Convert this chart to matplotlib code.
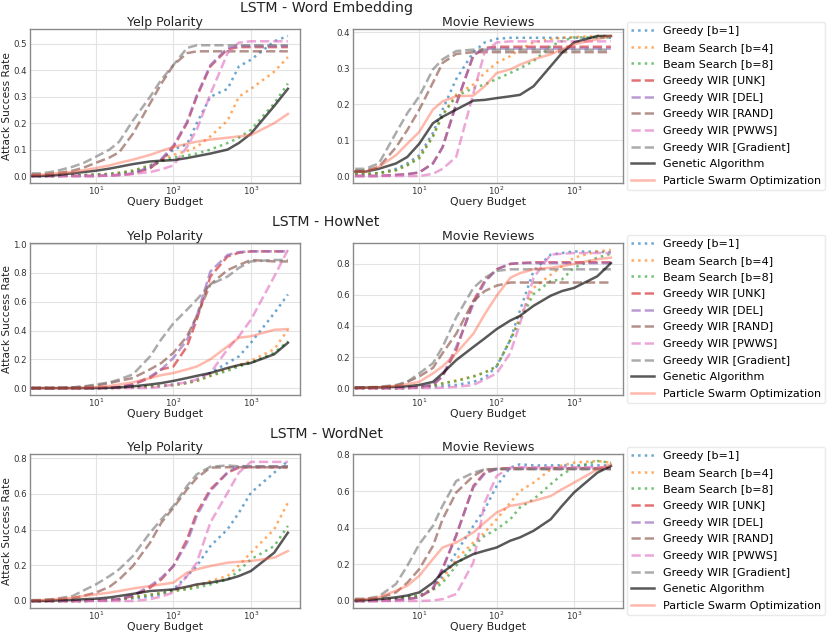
import numpy as np
import matplotlib.pyplot as plt

# query budgets (x values shared by every curve)
budget = [1, 2, 3, 5, 7, 10, 15, 20, 30, 50, 70, 100, 150, 200, 300, 500, 700, 1000, 2000, 3000]

labels = ["Greedy [b=1]", "Beam Search [b=4]", "Beam Search [b=8]",
          "Greedy WIR [UNK]", "Greedy WIR [DEL]", "Greedy WIR [RAND]",
          "Greedy WIR [PWWS]", "Greedy WIR [Gradient]",
          "Genetic Algorithm", "Particle Swarm Optimization"]

# ---- LSTM - Word Embedding ----
we_yelp_greedy = [0, 0, 0, 0.002, 0.003, 0.005, 0.007, 0.01, 0.015, 0.03, 0.06, 0.1, 0.12, 0.2, 0.3, 0.33, 0.415, 0.44, 0.51, 0.53]
we_yelp_beam4 = [0, 0, 0, 0.002, 0.003, 0.005, 0.008, 0.012, 0.02, 0.04, 0.06, 0.08, 0.095, 0.11, 0.15, 0.21, 0.3, 0.33, 0.395, 0.45]
we_yelp_beam8 = [0, 0, 0, 0.002, 0.003, 0.005, 0.008, 0.012, 0.02, 0.04, 0.055, 0.07, 0.078, 0.085, 0.1, 0.125, 0.145, 0.175, 0.275, 0.35]
we_yelp_unk = [0, 0, 0, 0, 0, 0, 0.002, 0.004, 0.008, 0.03, 0.06, 0.11, 0.2, 0.3, 0.415, 0.48, 0.488, 0.488, 0.488, 0.488]
we_yelp_del = [0, 0, 0, 0, 0, 0, 0.002, 0.004, 0.01, 0.035, 0.065, 0.115, 0.205, 0.305, 0.42, 0.485, 0.492, 0.492, 0.492, 0.492]
we_yelp_rand = [0.005, 0.005, 0.01, 0.02, 0.032, 0.05, 0.07, 0.09, 0.16, 0.275, 0.35, 0.42, 0.465, 0.472, 0.472, 0.472, 0.472, 0.472, 0.472, 0.472]
we_yelp_grad = [0.01, 0.01, 0.018, 0.035, 0.05, 0.073, 0.1, 0.13, 0.21, 0.3, 0.365, 0.42, 0.485, 0.495, 0.495, 0.495, 0.495, 0.495, 0.495, 0.495]
we_yelp_pwws = [0, 0, 0, 0, 0, 0, 0.002, 0.004, 0.008, 0.015, 0.025, 0.04, 0.11, 0.175, 0.31, 0.465, 0.505, 0.51, 0.51, 0.51]
we_yelp_ga = [0, 0, 0.003, 0.01, 0.015, 0.02, 0.028, 0.035, 0.045, 0.055, 0.058, 0.06, 0.068, 0.075, 0.085, 0.1, 0.125, 0.16, 0.265, 0.33]
we_yelp_pso = [0.003, 0.005, 0.01, 0.015, 0.022, 0.03, 0.04, 0.05, 0.062, 0.08, 0.095, 0.11, 0.122, 0.13, 0.138, 0.145, 0.15, 0.155, 0.2, 0.235]

we_mr_greedy = [0.005, 0.005, 0.008, 0.02, 0.035, 0.058, 0.12, 0.185, 0.27, 0.345, 0.372, 0.382, 0.385, 0.385, 0.385, 0.385, 0.385, 0.385, 0.385, 0.385]
we_mr_beam4 = [0.005, 0.005, 0.008, 0.016, 0.03, 0.053, 0.11, 0.17, 0.227, 0.255, 0.287, 0.315, 0.334, 0.353, 0.372, 0.381, 0.385, 0.387, 0.39, 0.39]
we_mr_beam8 = [0.005, 0.005, 0.008, 0.016, 0.03, 0.049, 0.11, 0.17, 0.222, 0.245, 0.255, 0.27, 0.287, 0.3, 0.32, 0.362, 0.376, 0.386, 0.386, 0.386]
we_mr_unk = [0, 0, 0, 0.003, 0.005, 0.01, 0.035, 0.08, 0.2, 0.335, 0.357, 0.36, 0.36, 0.36, 0.36, 0.36, 0.36, 0.36, 0.36, 0.36]
we_mr_del = [0, 0, 0, 0.003, 0.005, 0.01, 0.035, 0.08, 0.2, 0.338, 0.355, 0.355, 0.355, 0.355, 0.355, 0.355, 0.355, 0.355, 0.355, 0.355]
we_mr_rand = [0.015, 0.015, 0.025, 0.08, 0.128, 0.185, 0.26, 0.315, 0.34, 0.345, 0.345, 0.345, 0.345, 0.345, 0.345, 0.345, 0.345, 0.345, 0.345, 0.345]
we_mr_grad = [0.02, 0.02, 0.035, 0.12, 0.175, 0.222, 0.297, 0.325, 0.348, 0.352, 0.352, 0.352, 0.352, 0.352, 0.352, 0.352, 0.352, 0.352, 0.352, 0.352]
we_mr_pwws = [0, 0, 0, 0, 0, 0, 0.006, 0.02, 0.053, 0.23, 0.345, 0.372, 0.375, 0.375, 0.375, 0.375, 0.375, 0.375, 0.375, 0.375]
we_mr_ga = [0.012, 0.012, 0.02, 0.035, 0.053, 0.09, 0.147, 0.165, 0.185, 0.21, 0.212, 0.217, 0.222, 0.226, 0.25, 0.306, 0.343, 0.372, 0.39, 0.39]
we_mr_pso = [0.012, 0.012, 0.025, 0.058, 0.09, 0.123, 0.185, 0.208, 0.222, 0.224, 0.25, 0.287, 0.297, 0.31, 0.325, 0.339, 0.353, 0.367, 0.381, 0.39]

# ---- LSTM - HowNet ----
hn_yelp_greedy = [0, 0, 0, 0, 0, 0, 0, 0.002, 0.005, 0.01, 0.015, 0.025, 0.04, 0.06, 0.105, 0.175, 0.22, 0.315, 0.52, 0.65]
hn_yelp_beam4 = [0, 0, 0, 0, 0, 0, 0, 0.002, 0.005, 0.01, 0.015, 0.02, 0.035, 0.05, 0.085, 0.13, 0.16, 0.19, 0.27, 0.405]
hn_yelp_beam8 = [0, 0, 0, 0, 0, 0, 0, 0.002, 0.005, 0.01, 0.015, 0.02, 0.035, 0.05, 0.085, 0.12, 0.15, 0.175, 0.245, 0.325]
hn_yelp_unk = [0, 0, 0, 0, 0, 0, 0.003, 0.007, 0.025, 0.07, 0.13, 0.15, 0.29, 0.475, 0.775, 0.915, 0.94, 0.95, 0.95, 0.95]
hn_yelp_del = [0, 0, 0, 0, 0, 0, 0.003, 0.007, 0.025, 0.08, 0.13, 0.21, 0.335, 0.5, 0.81, 0.925, 0.945, 0.95, 0.95, 0.95]
hn_yelp_rand = [0, 0, 0, 0.005, 0.01, 0.018, 0.035, 0.05, 0.07, 0.13, 0.175, 0.245, 0.36, 0.5, 0.72, 0.82, 0.855, 0.89, 0.88, 0.88]
hn_yelp_grad = [0, 0, 0, 0.005, 0.012, 0.025, 0.04, 0.06, 0.095, 0.22, 0.34, 0.45, 0.545, 0.615, 0.72, 0.775, 0.835, 0.88, 0.89, 0.89]
hn_yelp_pwws = [0, 0, 0, 0, 0, 0, 0, 0, 0, 0, 0.01, 0.025, 0.04, 0.06, 0.105, 0.27, 0.36, 0.475, 0.775, 0.96]
hn_yelp_ga = [0, 0, 0, 0, 0, 0, 0.002, 0.005, 0.012, 0.025, 0.035, 0.05, 0.07, 0.085, 0.105, 0.14, 0.16, 0.175, 0.235, 0.315]
hn_yelp_pso = [0, 0, 0, 0, 0.003, 0.007, 0.015, 0.025, 0.04, 0.07, 0.09, 0.105, 0.13, 0.15, 0.2, 0.29, 0.35, 0.36, 0.405, 0.41]

hn_mr_greedy = [0, 0, 0, 0, 0, 0.005, 0.01, 0.015, 0.02, 0.04, 0.065, 0.14, 0.31, 0.5, 0.755, 0.86, 0.87, 0.88, 0.878, 0.875]
hn_mr_beam4 = [0, 0, 0, 0, 0, 0.005, 0.015, 0.03, 0.05, 0.075, 0.1, 0.14, 0.31, 0.455, 0.645, 0.73, 0.785, 0.84, 0.88, 0.89]
hn_mr_beam8 = [0, 0, 0, 0, 0, 0.005, 0.015, 0.03, 0.045, 0.075, 0.1, 0.14, 0.31, 0.435, 0.605, 0.69, 0.7, 0.775, 0.84, 0.865]
hn_mr_unk = [0, 0, 0, 0, 0.002, 0.005, 0.02, 0.075, 0.245, 0.56, 0.69, 0.765, 0.8, 0.805, 0.81, 0.81, 0.81, 0.81, 0.81, 0.81]
hn_mr_del = [0, 0, 0, 0, 0.002, 0.005, 0.02, 0.08, 0.265, 0.54, 0.68, 0.765, 0.8, 0.805, 0.805, 0.805, 0.805, 0.805, 0.805, 0.805]
hn_mr_rand = [0.003, 0.003, 0.005, 0.015, 0.04, 0.075, 0.13, 0.225, 0.35, 0.56, 0.625, 0.66, 0.68, 0.68, 0.68, 0.68, 0.68, 0.68, 0.68, 0.68]
hn_mr_grad = [0.005, 0.005, 0.008, 0.02, 0.04, 0.095, 0.16, 0.265, 0.455, 0.645, 0.71, 0.755, 0.765, 0.765, 0.765, 0.765, 0.765, 0.765, 0.765, 0.765]
hn_mr_pwws = [0, 0, 0, 0, 0, 0, 0, 0.003, 0.008, 0.02, 0.055, 0.095, 0.225, 0.415, 0.71, 0.86, 0.865, 0.87, 0.87, 0.87]
hn_mr_ga = [0, 0.003, 0.005, 0.008, 0.012, 0.02, 0.04, 0.095, 0.18, 0.265, 0.32, 0.38, 0.435, 0.465, 0.53, 0.595, 0.625, 0.645, 0.72, 0.805]
hn_mr_pso = [0, 0.003, 0.005, 0.015, 0.025, 0.04, 0.095, 0.14, 0.225, 0.35, 0.475, 0.595, 0.71, 0.74, 0.765, 0.775, 0.785, 0.8, 0.83, 0.84]

# ---- LSTM - WordNet ----
wn_yelp_greedy = [0, 0, 0, 0, 0, 0.002, 0.005, 0.008, 0.015, 0.025, 0.037, 0.065, 0.14, 0.196, 0.308, 0.402, 0.495, 0.607, 0.72, 0.785]
wn_yelp_beam4 = [0, 0, 0, 0, 0, 0.002, 0.005, 0.01, 0.02, 0.035, 0.045, 0.056, 0.07, 0.084, 0.112, 0.14, 0.2, 0.271, 0.402, 0.551]
wn_yelp_beam8 = [0, 0, 0, 0, 0, 0.002, 0.005, 0.01, 0.02, 0.035, 0.045, 0.056, 0.065, 0.075, 0.093, 0.121, 0.17, 0.234, 0.308, 0.421]
wn_yelp_unk = [0, 0, 0, 0, 0, 0.002, 0.005, 0.01, 0.028, 0.075, 0.121, 0.196, 0.346, 0.495, 0.626, 0.72, 0.748, 0.75, 0.75, 0.75]
wn_yelp_del = [0, 0, 0, 0, 0, 0.002, 0.005, 0.01, 0.032, 0.084, 0.131, 0.196, 0.327, 0.477, 0.617, 0.72, 0.757, 0.755, 0.755, 0.755]
wn_yelp_rand = [0.003, 0.005, 0.008, 0.015, 0.03, 0.047, 0.08, 0.121, 0.196, 0.327, 0.44, 0.523, 0.626, 0.69, 0.748, 0.75, 0.75, 0.75, 0.75, 0.75]
wn_yelp_grad = [0.005, 0.005, 0.012, 0.028, 0.06, 0.093, 0.14, 0.178, 0.252, 0.383, 0.458, 0.533, 0.645, 0.71, 0.753, 0.76, 0.755, 0.755, 0.755, 0.755]
wn_yelp_pwws = [0, 0, 0, 0, 0, 0, 0, 0, 0, 0.01, 0.025, 0.047, 0.14, 0.215, 0.44, 0.607, 0.72, 0.78, 0.78, 0.78]
wn_yelp_ga = [0, 0, 0.003, 0.006, 0.01, 0.013, 0.02, 0.028, 0.04, 0.056, 0.06, 0.065, 0.08, 0.093, 0.103, 0.121, 0.14, 0.168, 0.271, 0.383]
wn_yelp_pso = [0, 0.005, 0.01, 0.019, 0.028, 0.037, 0.047, 0.056, 0.07, 0.084, 0.093, 0.103, 0.159, 0.178, 0.196, 0.215, 0.22, 0.224, 0.243, 0.28]

wn_mr_greedy = [0, 0, 0.003, 0.011, 0.02, 0.029, 0.065, 0.138, 0.265, 0.41, 0.5, 0.628, 0.728, 0.746, 0.74, 0.74, 0.74, 0.74, 0.74, 0.74]
wn_mr_beam4 = [0, 0, 0.003, 0.011, 0.02, 0.029, 0.07, 0.12, 0.229, 0.319, 0.374, 0.446, 0.537, 0.6, 0.646, 0.718, 0.74, 0.755, 0.764, 0.755]
wn_mr_beam8 = [0, 0, 0.003, 0.011, 0.02, 0.029, 0.06, 0.1, 0.192, 0.3, 0.356, 0.392, 0.446, 0.51, 0.555, 0.637, 0.69, 0.728, 0.764, 0.755]
wn_mr_unk = [0, 0, 0, 0.005, 0.01, 0.02, 0.065, 0.174, 0.356, 0.628, 0.7, 0.722, 0.725, 0.725, 0.725, 0.725, 0.725, 0.725, 0.725, 0.725]
wn_mr_del = [0, 0, 0, 0.005, 0.01, 0.02, 0.07, 0.18, 0.36, 0.62, 0.695, 0.72, 0.722, 0.722, 0.722, 0.722, 0.722, 0.722, 0.722, 0.722]
wn_mr_rand = [0.01, 0.01, 0.015, 0.047, 0.1, 0.174, 0.3, 0.446, 0.592, 0.682, 0.718, 0.72, 0.72, 0.72, 0.72, 0.72, 0.72, 0.72, 0.72, 0.72]
wn_mr_grad = [0.012, 0.012, 0.025, 0.093, 0.192, 0.31, 0.41, 0.52, 0.655, 0.7, 0.718, 0.72, 0.72, 0.72, 0.72, 0.72, 0.72, 0.72, 0.72, 0.72]
wn_mr_pwws = [0, 0, 0, 0, 0, 0, 0.003, 0.01, 0.038, 0.21, 0.537, 0.682, 0.728, 0.73, 0.73, 0.73, 0.73, 0.73, 0.73, 0.73]
wn_mr_ga = [0, 0.005, 0.01, 0.02, 0.03, 0.047, 0.1, 0.156, 0.21, 0.256, 0.274, 0.292, 0.329, 0.347, 0.383, 0.446, 0.519, 0.592, 0.7, 0.737]
wn_mr_pso = [0.005, 0.01, 0.02, 0.056, 0.083, 0.138, 0.229, 0.292, 0.319, 0.374, 0.428, 0.483, 0.519, 0.528, 0.546, 0.573, 0.61, 0.646, 0.718, 0.746]

we_yelp = [we_yelp_greedy, we_yelp_beam4, we_yelp_beam8, we_yelp_unk, we_yelp_del, we_yelp_rand, we_yelp_pwws, we_yelp_grad, we_yelp_ga, we_yelp_pso]
we_mr = [we_mr_greedy, we_mr_beam4, we_mr_beam8, we_mr_unk, we_mr_del, we_mr_rand, we_mr_pwws, we_mr_grad, we_mr_ga, we_mr_pso]
hn_yelp = [hn_yelp_greedy, hn_yelp_beam4, hn_yelp_beam8, hn_yelp_unk, hn_yelp_del, hn_yelp_rand, hn_yelp_pwws, hn_yelp_grad, hn_yelp_ga, hn_yelp_pso]
hn_mr = [hn_mr_greedy, hn_mr_beam4, hn_mr_beam8, hn_mr_unk, hn_mr_del, hn_mr_rand, hn_mr_pwws, hn_mr_grad, hn_mr_ga, hn_mr_pso]
wn_yelp = [wn_yelp_greedy, wn_yelp_beam4, wn_yelp_beam8, wn_yelp_unk, wn_yelp_del, wn_yelp_rand, wn_yelp_pwws, wn_yelp_grad, wn_yelp_ga, wn_yelp_pso]
wn_mr = [wn_mr_greedy, wn_mr_beam4, wn_mr_beam8, wn_mr_unk, wn_mr_del, wn_mr_rand, wn_mr_pwws, wn_mr_grad, wn_mr_ga, wn_mr_pso]

row_titles = ["LSTM - Word Embedding", "LSTM - HowNet", "LSTM - WordNet"]
rows = [(we_yelp, we_mr), (hn_yelp, hn_mr), (wn_yelp, wn_mr)]

colors = ["tab:blue", "tab:orange", "tab:green", "tab:red", "tab:purple",
          "tab:brown", "tab:pink", "tab:gray", "black", "tomato"]
styles = [":", ":", ":", "--", "--", "--", "--", "--", "-", "-"]
alphas = [0.65] * 8 + [0.65, 0.45]

W, H = 830, 633
fig = plt.figure(figsize=(W / 100, H / 100), dpi=100)

def px_axes(x0, y0, x1, y1):
    return fig.add_axes([x0 / W, 1 - y1 / H, (x1 - x0) / W, (y1 - y0) / H])

row_tops = [29, 243, 454]
row_bottoms = [183, 395, 608]
title_y = [8, 222, 434]

for r in range(3):
    yelp, mr = rows[r]
    axl = px_axes(29.5, row_tops[r], 300, row_bottoms[r])
    axr = px_axes(353, row_tops[r], 623, row_bottoms[r])
    for ax, data, name in [(axl, yelp, "Yelp Polarity"), (axr, mr, "Movie Reviews")]:
        for i in range(10):
            ax.plot(budget, data[i], linestyle=styles[i], color=colors[i],
                    alpha=alphas[i], linewidth=1.8, label=labels[i])
        ax.set_xscale("log")
        ax.set_xlim(1.39, 4300)
        ax.minorticks_off()
        ax.grid(True, color="#e3e3e3", linewidth=0.8)
        ax.set_axisbelow(True)
        for s in ax.spines.values():
            s.set_color("#8a8a8a")
            s.set_linewidth(1.0)
        ax.tick_params(length=0, labelsize=6.2, colors="#333333", pad=2)
        ax.tick_params(axis="x", pad=1)
        ax.set_title(name, fontsize=9, pad=2, color="#222222")
        ax.set_xlabel("Query Budget", fontsize=7.8, labelpad=0, color="#222222")
    axl.set_ylabel("Attack Success Rate", fontsize=7.6, labelpad=1, color="#222222")
    axr.legend(loc="center left", bbox_to_anchor=(1.015, 0.5), fontsize=8,
               labelspacing=0.6, frameon=True, edgecolor="#e5e5e5", borderaxespad=0)
    fig.text(326 / W, 1 - title_y[r] / H, row_titles[r], ha="center", va="center",
             fontsize=10.2, color="#222222")

plt.savefig("out.png", dpi=100)
